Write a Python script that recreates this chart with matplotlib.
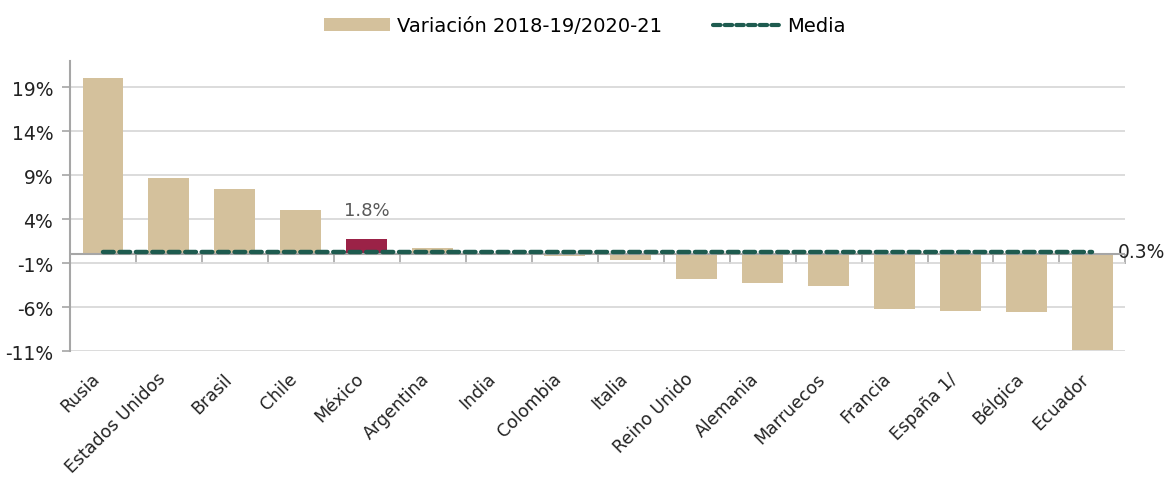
import matplotlib.pyplot as plt
import numpy as np
from matplotlib.lines import Line2D
from matplotlib.patches import Patch
from matplotlib.transforms import ScaledTranslation

# data
paises = ["Rusia", "Estados Unidos", "Brasil", "Chile", "México", "Argentina",
          "India", "Colombia", "Italia", "Reino Unido", "Alemania", "Marruecos",
          "Francia", "España 1/", "Bélgica", "Ecuador"]
variacion = [20.1, 8.7, 7.4, 5.1, 1.8, 0.7, 0.1, -0.2, -0.6, -2.8, -3.3, -3.6,
             -6.2, -6.4, -6.6, -10.9]
media = 0.3
destacado = "México"

beige = "#D4C19C"
guinda = "#9B2247"
verde = "#1E5B4F"

plt.rcParams['font.family'] = ['DejaVu Sans']

fig = plt.figure(figsize=(11.76, 4.81), dpi=100)
ax = fig.add_axes([0.0595, 0.268, 0.8975, 0.603])

x = np.arange(len(paises))
colores = [guinda if p == destacado else beige for p in paises]
ax.bar(x, variacion, width=0.62, color=colores, zorder=2)

ax.plot(x, [media] * len(x), color=verde, lw=3.2, dashes=(2.4, 1.3),
        dash_capstyle="round", zorder=4)

i = paises.index(destacado)
ax.text(x[i], variacion[i] + 2.2, f"{variacion[i]:.1f}%", ha="center", va="bottom",
        fontsize=13, color="#595959")
ax.text(x[-1] + 0.39, media, f"{media:.1f}%", ha="left", va="center",
        fontsize=13.5, color="#222222")

ax.set_xlim(-0.5, 15.5)
ax.set_ylim(-11, 22)
yt = [-11, -6, -1, 4, 9, 14, 19]
ax.set_yticks(yt)
ax.set_yticklabels([f"{v}%" for v in yt], fontsize=13.5, color="#222222")
ax.yaxis.grid(True, color="#D9D9D9", lw=1.3, zorder=0)
ax.tick_params(axis="y", length=6, color="#A6A6A6", width=1.2, pad=6)

for s in ["top", "right", "bottom"]:
    ax.spines[s].set_visible(False)
ax.spines["left"].set_color("#A6A6A6")
ax.spines["left"].set_linewidth(1.5)

# category labels at the bottom
ax.set_xticks(x)
ax.set_xticklabels(paises, rotation=45, ha="right", rotation_mode="anchor",
                   fontsize=12.5, color="#222222")
ax.tick_params(axis="x", length=0, pad=13)
for lbl in ax.get_xticklabels():
    lbl.set_transform(lbl.get_transform() + ScaledTranslation(-9 / 72, 0, fig.dpi_scale_trans))

# zero axis with tick marks between categories
ax.axhline(0, color="#A6A6A6", lw=1.5, zorder=3)
sec = ax.secondary_xaxis(0, transform=ax.transData)
sec.set_xticks(np.arange(len(paises) + 1) - 0.5)
sec.set_xticklabels([])
sec.tick_params(axis="x", length=7, color="#A6A6A6", width=1.2, direction="out")
sec.spines["bottom"].set_visible(False)

handles = [Patch(facecolor=beige, label="Variación 2018-19/2020-21"),
           Line2D([0], [0], color=verde, lw=3.0, dashes=(1.8, 1.0),
                  dash_capstyle="round", label="Media")]
fig.legend(handles=handles, loc="upper center", bbox_to_anchor=(0.497, 1.0), ncol=2,
           frameon=False, fontsize=14, handlelength=3.4, handleheight=0.6,
           columnspacing=2.6, handletextpad=0.4)

fig.savefig("out.png", dpi=100)
